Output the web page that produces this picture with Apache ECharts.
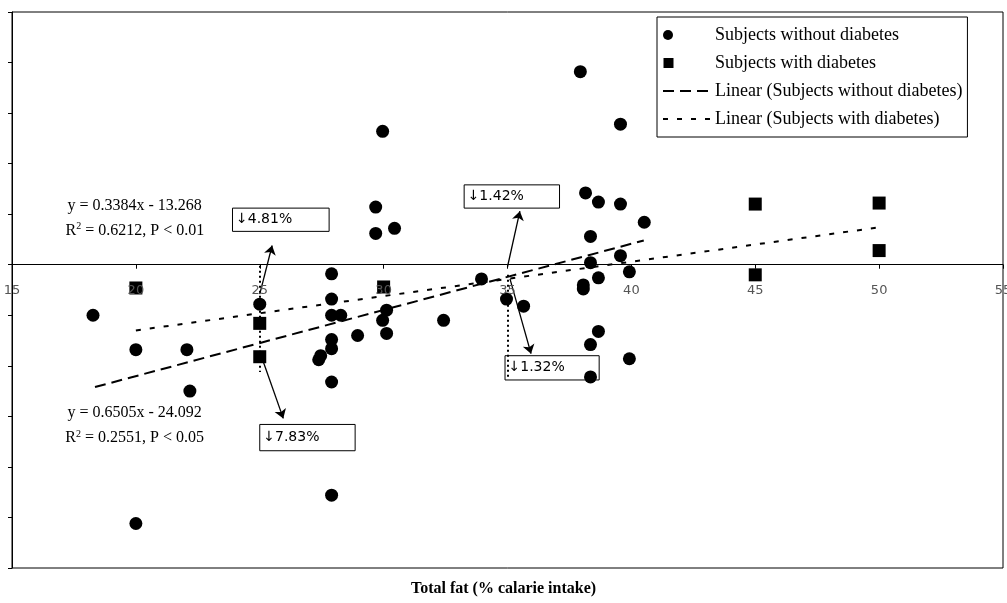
<!DOCTYPE html>
<html>
<head>
<meta charset="utf-8">
<script src="https://cdn.jsdelivr.net/npm/echarts@6/dist/echarts.min.js"></script>
<style>
  html, body { margin: 0; padding: 0; background: #fff; }
  #chart { width: 1007px; height: 603px; }
</style>
</head>
<body>
<div id="chart"></div>
<script>
// subjects without diabetes (circles)
const noDiabX = [18.27, 20, 20, 22.06, 22.18, 25, 27.9, 27.9, 27.9, 28.27, 27.9, 27.9, 27.46, 27.38, 27.9, 27.9,
  28.95, 29.68, 29.68, 29.96, 30.44, 30.12, 29.96, 30.12, 32.42, 33.95, 34.96, 35.65,
  37.94, 38.15, 38.67, 39.56, 39.56, 40.52, 38.35, 39.56, 38.35, 39.92, 38.67, 38.06, 38.06, 38.67, 38.35, 39.92, 38.35];
const noDiabY = [-5.0, -8.4, -25.6, -8.4, -12.5, -3.9, -0.9, -3.4, -5.0, -5.0, -7.4, -8.3, -9.0, -9.4, -11.6, -22.8,
  -7.0, 5.7, 3.1, 13.2, 3.6, -4.5, -5.5, -6.8, -5.5, -1.4, -3.4, -4.1,
  19.1, 7.1, 6.2, 6.0, 13.9, 4.2, 2.8, 0.9, 0.2, -0.7, -1.3, -2.0, -2.4, -6.6, -7.9, -9.3, -11.1];

// subjects with diabetes (squares)
const diabX = [20, 25, 25, 30, 45, 45, 50, 50];
const diabY = [-2.3, -5.8, -9.1, -2.2, 6.0, -1.0, 6.1, 1.4];

// trend line end points
const trendNoX = [18.35, 40.5];
const trendNoY = [-12.1, 2.4];
const trendDiaX = [20, 50];
const trendDiaY = [-6.5, 3.7];

// x tick labels (drawn under the zero line)
const xTicks = [15, 20, 25, 30, 35, 40, 45, 50, 55];

// annotation boxes: text and corners in data units
const boxText = ['↓4.81%', '↓7.83%', '↓1.42%', '↓1.32%'];
const boxX1 = [23.9, 25.0, 33.25, 34.9];
const boxX2 = [27.8, 28.85, 37.1, 38.7];
const boxY1 = [5.6, -15.8, 7.9, -9.0];
const boxY2 = [3.3, -18.4, 5.6, -11.4];

// arrows from the dotted lines to the boxes
const arrowFrom = [[25.0, -2.9], [25.1, -9.3], [35.0, -0.2], [35.1, -1.4]];
const arrowTo = [[25.5, 1.9], [25.95, -15.2], [35.5, 5.3], [35.95, -8.8]];

// dotted verticals
const dotX = [25, 35];
const dotTop = [-0.1, -1.0];
const dotBottom = [-10.6, -11.2];

// regression equations
const eqText = ['y = 0.3384x - 13.268', 'R{sup|2} = 0.6212, P < 0.01', 'y = 0.6505x - 24.092', 'R{sup|2} = 0.2551, P < 0.05'];
const eqX = [19.95, 19.96, 19.95, 19.95];
const eqY = [5.85, 3.4, -14.6, -17.15];

const zip = (xs, ys) => xs.map((x, i) => [x, ys[i]]);

const chart = echarts.init(document.getElementById('chart'));

const serif = 'Liberation Serif';
const hidden = 'rgba(0,0,0,0)';
// legend markers sit at the left of a 47 x 11 box, like the line icons
const dotIcon = 'path://M0,0M47,11M0,5.5A5,5,0,1,1,10,5.5A5,5,0,1,1,0,5.5Z';
const squareIcon = 'path://M0,0M47,11M0.5,0.5L10.5,0.5L10.5,10.5L0.5,10.5Z';

chart.setOption({
  animation: false,
  backgroundColor: '#fff',
  title: {
    text: 'Total fat (% calarie intake)',
    left: 'center',
    bottom: 1,
    textStyle: { fontFamily: serif, fontWeight: 'bold', fontSize: 16, color: '#000' }
  },
  grid: {
    left: 12, right: 4, top: 12, bottom: 35,
    outerBoundsMode: 'none',
    containLabel: false,
    show: true, borderColor: '#000', borderWidth: 1
  },
  legend: {
    data: [
      { name: 'Subjects without diabetes', icon: dotIcon },
      { name: 'Subjects with diabetes', icon: squareIcon },
      { name: 'Linear (Subjects without diabetes)' },
      { name: 'Linear (Subjects with diabetes)' }
    ],
    orient: 'vertical',
    left: 657,
    top: 17,
    backgroundColor: '#fff',
    borderColor: '#000',
    borderWidth: 1,
    borderRadius: 0,
    padding: [9, 5, 9, 5],
    itemGap: 10,
    itemWidth: 47,
    itemHeight: 11,
    textStyle: { fontFamily: serif, fontSize: 18, color: '#000' }
  },
  xAxis: {
    type: 'value',
    min: 15, max: 55, interval: 5,
    axisLine: { onZero: true, lineStyle: { color: '#000', width: 1 } },
    axisTick: { show: true, length: 4, lineStyle: { color: '#000' } },
    axisLabel: { show: false },
    splitLine: { show: false }
  },
  yAxis: {
    type: 'value',
    min: -30, max: 25, interval: 5,
    axisLine: { show: true, lineStyle: { color: '#000', width: 1 } },
    axisTick: { show: true, length: 4, lineStyle: { color: '#000' } },
    axisLabel: { show: false },
    splitLine: { show: false }
  },
  series: [
    {
      name: 'notes',
      type: 'line',
      data: [],
      z: 1,
      markArea: {
        silent: true,
        itemStyle: { color: '#fff', borderColor: '#000', borderWidth: 1 },
        label: {
          show: true, position: 'insideLeft', distance: 4,
          color: '#000', fontFamily: 'DejaVu Sans', fontSize: 14
        },
        data: boxText.map((t, i) => [
          { name: t, coord: [boxX1[i], boxY1[i]] },
          { coord: [boxX2[i], boxY2[i]] }
        ])
      },
      markLine: {
        silent: true,
        animation: false,
        label: { show: false },
        data: arrowFrom.map((p, i) => [
          { coord: p, symbol: 'none', lineStyle: { color: '#000', width: 1.3, type: 'solid' } },
          { coord: arrowTo[i], symbol: 'arrow', symbolSize: 9 }
        ]).concat(dotX.map((x, i) => [
          { coord: [x, dotTop[i]], symbol: 'none', lineStyle: { color: '#000', width: 2, type: [2, 3] } },
          { coord: [x, dotBottom[i]], symbol: 'none' }
        ]))
      },
      markPoint: {
        silent: true,
        symbol: 'circle',
        symbolSize: 1,
        itemStyle: { color: hidden },
        label: {
          show: true, position: 'inside',
          color: '#000', fontFamily: serif, fontSize: 16,
          rich: { sup: { fontFamily: serif, fontSize: 10, padding: [0, 0, 8, 0], color: '#000' } }
        },
        data: eqText.map((t, i) => ({ coord: [eqX[i], eqY[i]], label: { formatter: t } }))
          .concat(xTicks.map(v => ({
            coord: [v, 0],
            label: { formatter: String(v), offset: [0, 26], color: '#555', fontFamily: 'DejaVu Sans', fontSize: 13 }
          })))
      }
    },
    {
      name: 'Linear (Subjects without diabetes)',
      type: 'line',
      data: zip(trendNoX, trendNoY),
      symbol: 'circle',
      showSymbol: false,
      z: 2,
      lineStyle: { color: '#000', width: 2, type: [11, 6] },
      itemStyle: { color: hidden }
    },
    {
      name: 'Linear (Subjects with diabetes)',
      type: 'line',
      data: zip(trendDiaX, trendDiaY),
      symbol: 'circle',
      showSymbol: false,
      z: 2,
      lineStyle: { color: '#000', width: 2, type: [5, 9] },
      itemStyle: { color: hidden }
    },
    {
      name: 'Subjects without diabetes',
      type: 'scatter',
      data: zip(noDiabX, noDiabY),
      symbol: 'circle',
      symbolSize: 13,
      z: 3,
      itemStyle: { color: '#000', opacity: 1 }
    },
    {
      name: 'Subjects with diabetes',
      type: 'scatter',
      data: zip(diabX, diabY),
      symbol: 'rect',
      symbolSize: 13,
      z: 3,
      itemStyle: { color: '#000', opacity: 1 }
    }
  ]
});
</script>
</body>
</html>
